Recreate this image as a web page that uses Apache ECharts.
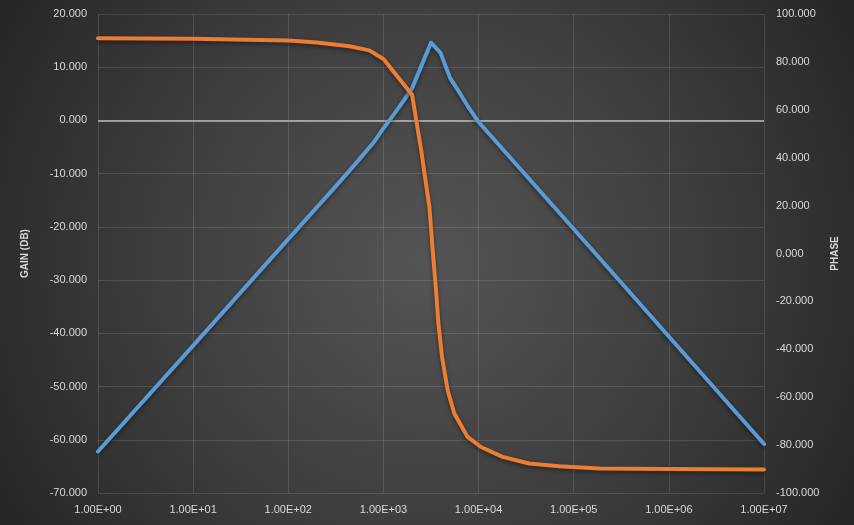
<!DOCTYPE html>
<html>
<head>
<meta charset="utf-8">
<script src="https://cdn.jsdelivr.net/npm/echarts@6/dist/echarts.min.js"></script>
<style>
html,body{margin:0;padding:0;background:#262626;}
#chart{width:854px;height:525px;}
</style>
</head>
<body>
<div id="chart"></div>
<script>
// Gain (dB) vs frequency
const gainFreq = [1, 10, 100, 300, 500, 800, 1000, 1259, 1585, 1995, 2512, 3162, 3981, 5012, 6310, 7943, 10000, 100000, 1000000, 10000000];
const gainDb   = [-62.2, -42.3, -22.3, -12.8, -8.3, -4.0, -1.5, 0.9, 3.4, 6.0, 10.3, 14.6, 12.7, 8.0, 5.2, 2.3, -0.3, -20.4, -40.6, -60.8];

// Phase (deg) vs frequency
const phaseFreq = [1, 10, 100, 200, 440, 710, 1000, 2000, 2490, 2700, 3040, 3290, 3570, 3780, 4130, 4730, 5560, 7670, 10600, 17900, 34000, 70000, 185000, 1000000, 10000000];
const phaseDeg  = [89.9, 89.7, 88.9, 88.1, 86.5, 84.8, 81.2, 66.3, 43.3, 33.5, 19.6, 1.5, -15.3, -29.2, -43.1, -57.1, -66.8, -76.6, -80.8, -84.9, -87.7, -88.8, -89.8, -90.0, -90.2];

// Axis ranges / ticks
const xMin = 1, xMax = 10000000;
const gainMin = -70, gainMax = 20, gainStep = 10;
const phaseMin = -100, phaseMax = 100, phaseStep = 20;
const gainName = 'GAIN (DB)';
const phaseName = 'PHASE';

const gainData = gainFreq.map((f, i) => [f, gainDb[i]]);
const phaseData = phaseFreq.map((f, i) => [f, phaseDeg[i]]);

function sciLabel(v) {
  const e = Math.round(Math.log10(v));
  const m = v / Math.pow(10, e);
  const sign = e < 0 ? '-' : '+';
  const a = Math.abs(e);
  return m.toFixed(2) + 'E' + sign + (a < 10 ? '0' + a : '' + a);
}

const FONT = 'Liberation Sans';
const labelColor = '#d9d9d9';
const gridColor = 'rgba(255,255,255,0.12)';

const chart = echarts.init(document.getElementById('chart'), null, {renderer: 'canvas'});
chart.setOption({
  animation: false,
  backgroundColor: {
    type: 'radial', x: 0.5, y: 0.5, r: 1,
    colorStops: [
      {offset: 0, color: '#555555'},
      {offset: 0.55, color: '#3c3c3c'},
      {offset: 1, color: '#232323'}
    ]
  },
  grid: {left: 98, right: 90, top: 14, bottom: 32, containLabel: false},
  xAxis: {
    type: 'log', logBase: 10, min: xMin, max: xMax,
    axisLine: {show: false},
    axisTick: {show: false},
    splitLine: {show: true, lineStyle: {color: gridColor, width: 1}},
    axisLabel: {
      color: labelColor, fontFamily: FONT, fontSize: 11, margin: 11,
      formatter: sciLabel
    }
  },
  yAxis: [
    {
      type: 'value', min: gainMin, max: gainMax, interval: gainStep,
      position: 'left',
      name: gainName, nameLocation: 'middle', nameRotate: 90, nameGap: 68,
      nameTextStyle: {color: labelColor, fontFamily: FONT, fontSize: 10, fontWeight: 'bold'},
      axisLine: {show: false}, axisTick: {show: false},
      splitLine: {show: true, lineStyle: {color: gridColor, width: 1}},
      axisLabel: {color: labelColor, fontFamily: FONT, fontSize: 11, margin: 11,
        formatter: v => v.toFixed(3)}
    },
    {
      type: 'value', min: phaseMin, max: phaseMax, interval: phaseStep,
      position: 'right', alignTicks: false,
      name: phaseName, nameLocation: 'middle', nameRotate: 90, nameGap: 59,
      nameTextStyle: {color: labelColor, fontFamily: FONT, fontSize: 10, fontWeight: 'bold'},
      axisLine: {show: false}, axisTick: {show: false},
      splitLine: {show: false},
      axisLabel: {color: labelColor, fontFamily: FONT, fontSize: 11, margin: 12,
        formatter: v => v.toFixed(3)}
    }
  ],
  series: [
    {
      name: 'Gain', type: 'line', yAxisIndex: 0, data: gainData,
      showSymbol: false, symbol: 'none',
      lineStyle: {color: '#5b9bd5', width: 4, cap: 'round', join: 'round',
        shadowColor: 'rgba(0,0,0,0.45)', shadowBlur: 4, shadowOffsetY: 2},
      z: 3,
      markLine: {
        silent: true, symbol: 'none', label: {show: false},
        lineStyle: {color: '#bdbdbd', width: 1.5, type: 'solid'},
        data: [{yAxis: 0}],
        z: 1
      }
    },
    {
      name: 'Phase', type: 'line', yAxisIndex: 1, data: phaseData,
      showSymbol: false, symbol: 'none',
      lineStyle: {color: '#ed7d31', width: 4, cap: 'round', join: 'round',
        shadowColor: 'rgba(0,0,0,0.45)', shadowBlur: 4, shadowOffsetY: 2},
      z: 4
    }
  ]
});
</script>
</body>
</html>
